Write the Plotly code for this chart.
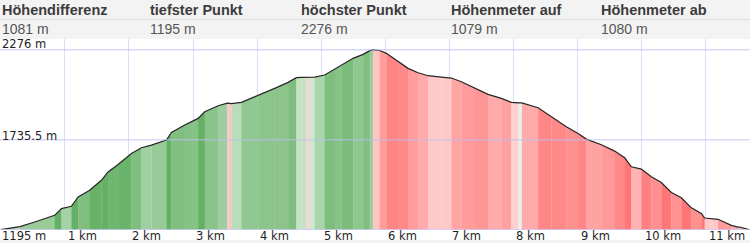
import plotly.graph_objects as go

# ---- data ----
dist_km = [0.0, 0.218, 0.27, 0.30, 0.530, 0.686, 0.842, 0.947, 1.103, 1.208, 1.388, 1.571,
           1.675, 1.831, 2.039, 2.195, 2.351, 2.585, 2.663, 2.871, 3.080, 3.183, 3.392,
           3.535, 3.56, 3.60, 3.755, 4.016, 4.274, 4.484, 4.613, 4.691, 4.77, 4.81, 4.899,
           5.055, 5.211, 5.315, 5.498, 5.654, 5.757, 5.810, 5.913, 6.017, 6.200, 6.355,
           6.511, 6.668, 6.875, 7.031, 7.187, 7.395, 7.603, 7.811, 7.967, 8.08, 8.13,
           8.384, 8.591, 8.825, 9.008, 9.137, 9.371, 9.579, 9.735, 9.839, 9.995, 10.151,
           10.307, 10.463, 10.619, 10.775, 10.931, 10.983, 11.192, 11.399, 11.50, 11.53,
           11.696]
elev_m = [1197, 1213, 1216, 1215, 1243, 1263, 1283, 1323, 1337, 1393, 1433, 1493,
          1543, 1588, 1654, 1688, 1704, 1734, 1780, 1824, 1864, 1904, 1940,
          1956, 1955, 1953, 1960, 2000, 2044, 2080, 2108, 2110, 2112, 2111, 2112,
          2124, 2160, 2180, 2224, 2248, 2270, 2276, 2271, 2254, 2204, 2164,
          2138, 2120, 2112, 2106, 2084, 2048, 2008, 1984, 1960, 1957, 1957,
          1928, 1874, 1814, 1774, 1740, 1706, 1668, 1628, 1574, 1560, 1514,
          1480, 1420, 1388, 1328, 1294, 1267, 1259, 1223, 1212, 1213,
          1195]

header_labels = ["Höhendifferenz", "tiefster Punkt", "höchster Punkt", "Höhenmeter auf", "Höhenmeter ab"]
header_values = ["1081 m", "1195 m", "2276 m", "1079 m", "1080 m"]
header_px = [0, 148, 299, 449, 599]

km_ticks = list(range(1, 12))
km_labels = [f"{k} km" for k in km_ticks]
y_min, y_mid, y_max = 1195, 1735.5, 2276
y_labels = ["1195 m", "1735.5 m", "2276 m"]

W, H = 750, 243
MT, MB = 39, 13
PH = H - MT - MB


def py2paper(py):
    return (H - MB - py) / PH


def mix(c0, c1, t):
    return "rgb(%d,%d,%d)" % tuple(round(a + (b - a) * t) for a, b in zip(c0, c1))


def seg_color(g):
    t = min(abs(g) / 0.35, 1.0) ** 0.5
    if g >= 0:
        return mix((232, 244, 232), (100, 176, 100), t)
    return mix((255, 242, 242), (255, 118, 118), t)


fig = go.Figure()

for i in range(len(dist_km) - 1):
    d0, d1 = dist_km[i], dist_km[i + 1]
    e0, e1 = elev_m[i], elev_m[i + 1]
    g = (e1 - e0) / ((d1 - d0) * 1000.0)
    fig.add_trace(go.Scatter(
        x=[d0, d0, d1 + 0.004, d1 + 0.004], y=[y_min, e0, e1, y_min],
        fill="toself", mode="none", fillcolor=seg_color(g),
        hoverinfo="skip", showlegend=False))

fig.add_trace(go.Scatter(x=dist_km, y=elev_m, mode="lines",
                         line=dict(color="#262626", width=1.2),
                         hoverinfo="skip", showlegend=False))

shapes = [
    dict(type="rect", xref="paper", yref="paper", x0=0, x1=1,
         y0=py2paper(240), y1=0, fillcolor="white", line_width=0, layer="below"),
    dict(type="line", xref="paper", yref="paper", x0=0, x1=1,
         y0=py2paper(19.5), y1=py2paper(19.5), line=dict(color="#dedede", width=1)),
]
for yv in [y_mid, y_max]:
    shapes.append(dict(type="line", xref="paper", yref="y", x0=0, x1=1, y0=yv, y1=yv,
                       line=dict(color="rgba(190,190,245,0.6)", width=1.5), layer="above"))
shapes.append(dict(type="line", xref="paper", yref="y", x0=0, x1=1, y0=y_min, y1=y_min,
                   line=dict(color="rgba(205,205,250,1)", width=1.5), layer="above"))

ann = []
for lab, val, px in zip(header_labels, header_values, header_px):
    ann.append(dict(text="<b>%s</b>" % lab, x=px / W, y=py2paper(9.5), xref="paper", yref="paper",
                    xanchor="left", yanchor="middle", showarrow=False,
                    font=dict(family="Liberation Sans, Arial", size=14.5, color="#3c3c3c")))
    ann.append(dict(text=val, x=px / W, y=py2paper(29.5), xref="paper", yref="paper",
                    xanchor="left", yanchor="middle", showarrow=False,
                    font=dict(family="Liberation Sans, Arial", size=14, color="#555555")))

axfont = dict(family="DejaVu Sans, Verdana", size=11.5, color="#1e1e1e")
for k, lab in zip(km_ticks, km_labels):
    ann.append(dict(text=lab, x=k, y=py2paper(235.5), xref="x", yref="paper",
                    xanchor="left", yanchor="middle", xshift=1, showarrow=False, font=axfont))
ann.append(dict(text=y_labels[0], x=0, y=py2paper(235.5), xref="paper", yref="paper",
                xanchor="left", yanchor="middle", showarrow=False, font=axfont))
ann.append(dict(text=y_labels[1], x=0, y=py2paper(135.5), xref="paper", yref="paper",
                xanchor="left", yanchor="middle", showarrow=False, font=axfont))
ann.append(dict(text=y_labels[2], x=0, y=py2paper(44.5), xref="paper", yref="paper",
                xanchor="left", yanchor="middle", showarrow=False, font=axfont))

fig.update_layout(
    width=W, height=H,
    margin=dict(l=0, r=0, t=MT, b=MB, pad=0),
    paper_bgcolor="#f3f3f3", plot_bgcolor="white",
    showlegend=False,
    shapes=shapes, annotations=ann,
    xaxis=dict(range=[-0.011, 11.69], tick0=0, dtick=1, showgrid=True,
               gridcolor="#dcdcfb", gridwidth=1, showticklabels=False, ticks="",
               zeroline=False, showline=False, fixedrange=True),
    yaxis=dict(range=[y_min, 2340], showgrid=False, showticklabels=False, ticks="",
               zeroline=False, showline=False, fixedrange=True),
)

fig.write_html("out.html")
